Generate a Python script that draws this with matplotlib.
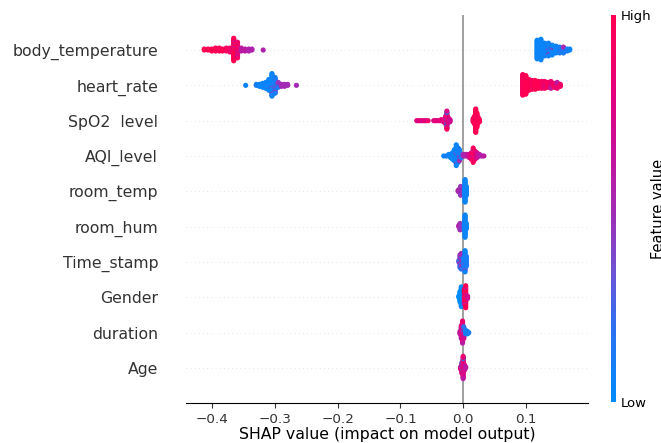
import numpy as np
import matplotlib
matplotlib.use("Agg")
import matplotlib.pyplot as plt
from matplotlib.colors import LinearSegmentedColormap, Normalize
from matplotlib.cm import ScalarMappable

# features, top to bottom
features = ["body_temperature", "heart_rate", "SpO2  level", "AQI_level", "room_temp",
            "room_hum", "Time_stamp", "Gender", "duration", "Age"]

# each entry: (SHAP value, number of samples, normalised feature value 0=low 1=high)
body_temperature = [(-0.413, 2, 1.0), (-0.407, 2, 1.0), (-0.401, 3, 1.0), (-0.395, 4, 1.0),
                    (-0.389, 4, 0.95), (-0.384, 3, 1.0), (-0.378, 4, 0.95), (-0.372, 5, 0.9),
                    (-0.366, 20, 1.0), (-0.366, 4, 0.6), (-0.360, 14, 0.9), (-0.360, 3, 0.6),
                    (-0.354, 4, 0.6), (-0.348, 3, 0.6), (-0.342, 3, 0.55), (-0.337, 2, 0.55),
                    (-0.319, 1, 0.55),
                    (0.118, 20, 0.05), (0.124, 22, 0.05), (0.130, 14, 0.05), (0.136, 12, 0.08),
                    (0.136, 2, 0.5), (0.142, 10, 0.05), (0.142, 1, 0.55), (0.148, 8, 0.05),
                    (0.154, 7, 0.1), (0.160, 5, 0.1), (0.160, 2, 0.5), (0.166, 3, 0.1),
                    (0.170, 2, 0.05)]
heart_rate = [(-0.347, 1, 0.05), (-0.330, 2, 0.1), (-0.325, 3, 0.05), (-0.320, 5, 0.05),
              (-0.315, 7, 0.05), (-0.310, 12, 0.05), (-0.305, 22, 0.05), (-0.305, 2, 0.4),
              (-0.300, 14, 0.1), (-0.300, 3, 0.45), (-0.295, 4, 0.45), (-0.295, 2, 0.1),
              (-0.290, 3, 0.5), (-0.285, 3, 0.5), (-0.280, 2, 0.5), (-0.266, 1, 0.5),
              (0.095, 22, 0.95), (0.100, 20, 1.0), (0.105, 12, 1.0), (0.110, 10, 0.95),
              (0.115, 10, 1.0), (0.120, 8, 1.0), (0.125, 8, 0.95), (0.130, 7, 0.9),
              (0.130, 1, 0.6), (0.135, 6, 0.95), (0.140, 6, 0.85), (0.140, 2, 0.6),
              (0.145, 5, 0.9), (0.150, 5, 0.85), (0.150, 2, 0.6), (0.155, 3, 0.9)]
spo2_level = [(-0.074, 1, 0.85), (-0.071, 1, 0.7), (-0.068, 1, 0.9), (-0.065, 1, 0.7),
              (-0.062, 1, 0.85), (-0.059, 1, 0.75), (-0.056, 1, 0.9), (-0.047, 1, 0.7),
              (-0.044, 1, 0.9), (-0.041, 1, 0.75), (-0.038, 1, 0.85), (-0.035, 2, 0.8),
              (-0.031, 3, 0.8), (-0.028, 6, 0.7), (-0.028, 2, 0.9), (-0.026, 10, 0.75),
              (-0.026, 4, 0.05), (-0.026, 4, 0.95), (-0.024, 6, 0.8), (-0.021, 3, 0.7),
              (0.016, 4, 1.0), (0.018, 8, 1.0), (0.020, 20, 1.0), (0.020, 3, 0.9),
              (0.022, 14, 1.0), (0.024, 6, 0.95), (0.026, 3, 1.0)]
aqi_level = [(-0.031, 1, 0.05), (-0.027, 1, 0.1), (-0.023, 2, 0.05), (-0.020, 3, 0.05),
             (-0.017, 5, 0.05), (-0.014, 8, 0.05), (-0.011, 12, 0.05), (-0.011, 2, 0.4),
             (-0.008, 10, 0.05), (-0.006, 6, 0.1), (-0.006, 2, 0.5), (-0.003, 3, 0.1),
             (0.000, 2, 0.5), (0.003, 2, 0.55), (0.006, 2, 0.6), (0.010, 3, 0.7),
             (0.013, 5, 0.85), (0.016, 8, 0.95), (0.016, 2, 0.6), (0.019, 6, 0.9),
             (0.022, 4, 0.7), (0.026, 2, 0.6), (0.030, 1, 0.55), (0.033, 1, 0.6)]
room_temp = [(-0.008, 2, 0.55), (-0.006, 4, 0.5), (-0.004, 8, 0.45), (-0.004, 2, 0.7),
             (-0.002, 3, 0.5), (0.002, 6, 0.1), (0.003, 24, 0.05), (0.005, 10, 0.05)]
room_hum = [(-0.007, 2, 0.55), (-0.005, 6, 0.5), (-0.005, 1, 0.8), (-0.003, 5, 0.45),
            (0.002, 8, 0.1), (0.003, 22, 0.05), (0.005, 6, 0.05)]
time_stamp = [(-0.007, 2, 0.3), (-0.005, 6, 0.45), (-0.005, 4, 0.15), (-0.003, 8, 0.5),
              (-0.003, 4, 0.2), (0.001, 6, 0.1), (0.003, 14, 0.05), (0.003, 2, 0.4),
              (0.005, 8, 0.1)]
gender = [(-0.007, 2, 0.0), (-0.005, 10, 0.0), (-0.003, 18, 0.0), (-0.001, 6, 0.0),
          (0.002, 10, 1.0), (0.002, 4, 0.6), (0.004, 16, 1.0), (0.004, 4, 0.6), (0.007, 3, 0.7)]
duration = [(-0.005, 3, 0.6), (-0.003, 8, 0.8), (-0.003, 4, 0.5), (-0.001, 14, 0.85),
            (-0.001, 6, 0.6), (0.001, 8, 0.7), (0.001, 3, 0.2), (0.004, 4, 0.1),
            (0.007, 3, 0.05), (0.009, 1, 0.1)]
age = [(-0.004, 3, 0.7), (-0.002, 8, 0.8), (-0.002, 3, 0.3), (0.000, 14, 0.85),
       (0.000, 6, 0.6), (0.000, 2, 0.2), (0.002, 6, 0.75), (0.004, 2, 0.6)]

rows = [body_temperature, heart_rate, spo2_level, aqi_level, room_temp,
        room_hum, time_stamp, gender, duration, age]

cmap = LinearSegmentedColormap.from_list("shap_red_blue", [
    (0.00, "#008bfb"), (0.20, "#2f6ff0"), (0.35, "#7450d2"), (0.50, "#a32ab4"),
    (0.65, "#c8109a"), (0.80, "#e4007c"), (1.00, "#ff0052")])


def beeswarm(groups, row_height=0.4, nbins=100):
    vals, cols, keys = [], [], []
    for v, c, f in groups:
        for j in range(c):
            vals.append(v)
            cols.append(f)
            keys.append((j + 0.5) / c)
    vals = np.array(vals)
    cols = np.array(cols)
    keys = np.array(keys)
    quant = np.round(nbins * (vals - vals.min()) / (vals.max() - vals.min() + 1e-8))
    order = np.lexsort((keys, quant))
    ys = np.zeros(len(vals))
    layer = 0
    last = None
    for i in order:
        if quant[i] != last:
            layer = 0
        ys[i] = np.ceil(layer / 2) * ((layer % 2) * 2 - 1)
        layer += 1
        last = quant[i]
    ys *= 0.9 * (row_height / np.max(ys + 1))
    return vals[order], ys[order], cols[order]


W, H = 661, 443
fig = plt.figure(figsize=(W / 100, H / 100), dpi=100)
ax = fig.add_axes([186 / W, 39.7 / H, (588 - 186) / W, (428.3 - 39.7) / H])

n = len(features)
for i, (name, groups) in enumerate(zip(features, rows)):
    pos = n - 1 - i
    ax.axhline(y=pos, color="#cccccc", lw=0.5, dashes=(1, 5), zorder=-1)
    x, y, c = beeswarm(groups)
    ax.scatter(x, pos + y, c=c, cmap=cmap, vmin=0, vmax=1, s=14, linewidths=0,
               alpha=1, zorder=3)

ax.axvline(x=0, color="#999999", lw=1.3, zorder=-1)
ax.set_ylim(-1, n)
ax.set_yticks(range(n))
ax.set_yticklabels(features[::-1], fontsize=11.3, color="#333333")
ax.tick_params("y", length=0, pad=20)
ax.tick_params("x", labelsize=9.7, colors="#333333")
ax.set_xlabel("SHAP value (impact on model output)", fontsize=11.3, labelpad=1)
for s in ["top", "right", "left"]:
    ax.spines[s].set_visible(False)

cax = fig.add_axes([611 / W, 41 / H, 5 / W, 387 / H])
sm = ScalarMappable(norm=Normalize(0, 1), cmap=cmap)
cb = fig.colorbar(sm, cax=cax, ticks=[0, 1])
cb.set_ticklabels(["Low", "High"])
cb.ax.tick_params(labelsize=9.5, length=0)
cb.set_label("Feature value", size=10.5, labelpad=0)
cb.outline.set_visible(False)

fig.savefig("out.png", dpi=100)
